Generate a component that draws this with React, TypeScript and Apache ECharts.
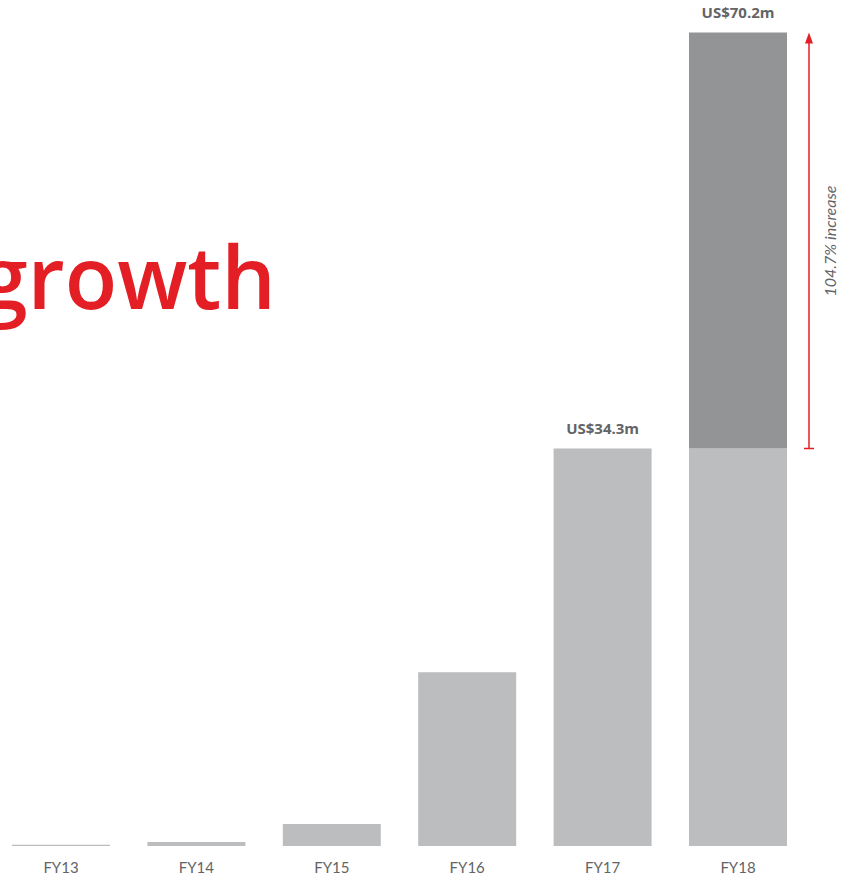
import React, { useEffect, useRef } from "react";
import * as echarts from "echarts";

const categories = ["FY13", "FY14", "FY15", "FY16", "FY17", "FY18"];
const baseValues = [0.1, 0.35, 1.9, 15.0, 34.3, 34.3];
const increaseValues: (number | null)[] = [null, null, null, null, null, 35.9];
const totalLabels: (string | null)[] = [null, null, null, null, "US$34.3m", "US$70.2m"];
const headline = "growth";
const increaseText = "104.7% increase";

const RED = "#e31e24";
const LIGHT = "#bcbdbf";
const DARK = "#939496";
const TEXT = "#636466";

const SHIFT = 10; // the chart div starts SHIFT px left of the page

export default function App() {
  const ref = useRef<HTMLDivElement>(null);
  useEffect(() => {
    if (!ref.current) return;
    const chart = echarts.init(ref.current, null, { renderer: "svg" });
    const labelStyle = {
      show: true,
      position: "top" as const,
      distance: 13,
      fontSize: 15,
      fontWeight: "bold" as const,
      color: TEXT,
      fontFamily: "Open Sans",
    };
    chart.setOption({
      animation: false,
      grid: { left: 3.3, right: 38.3, top: 0, bottom: 29, containLabel: false },
      xAxis: {
        type: "category",
        data: categories,
        axisLine: { show: false },
        axisTick: { show: false },
        axisLabel: { margin: 13, fontSize: 15, color: TEXT, fontFamily: "Lato" },
      },
      yAxis: { type: "value", min: 0, max: 73, show: false, splitLine: { show: false } },
      series: [
        {
          type: "bar",
          stack: "a",
          barWidth: 98,
          itemStyle: { color: LIGHT },
          data: baseValues.map((v, i) => ({
            value: v,
            label: i === 4 ? { ...labelStyle, formatter: totalLabels[i] as string } : { show: false },
          })),
        },
        {
          type: "bar",
          stack: "a",
          barWidth: 98,
          itemStyle: { color: DARK },
          data: increaseValues.map((v, i) => ({
            value: v === null ? "-" : v,
            label: v !== null && totalLabels[i] ? { ...labelStyle, formatter: totalLabels[i] as string } : { show: false },
          })),
        },
      ],
    });

    const yLow = chart.convertToPixel({ gridIndex: 0 }, [5, baseValues[5]])[1];
    const yHigh = chart.convertToPixel({ gridIndex: 0 }, [5, baseValues[5] + (increaseValues[5] as number)])[1];
    const ax = 809 + SHIFT;
    chart.setOption({
      graphic: [
        {
          type: "text",
          x: 276 + SHIFT,
          y: 318,
          style: {
            text: headline,
            fill: RED,
            font: "600 86px 'Open Sans'",
            textAlign: "right",
            textVerticalAlign: "bottom",
          },
        },
        {
          type: "line",
          shape: { x1: ax, y1: yLow, x2: ax, y2: yHigh + 8 },
          style: { stroke: RED, lineWidth: 1.5 },
        },
        {
          type: "line",
          shape: { x1: ax - 5, y1: yLow, x2: ax + 5, y2: yLow },
          style: { stroke: RED, lineWidth: 1.5 },
        },
        {
          type: "polygon",
          shape: { points: [[ax, yHigh], [ax - 4, yHigh + 11], [ax + 4, yHigh + 11]] },
          style: { fill: RED },
        },
        {
          type: "text",
          x: 829 + SHIFT,
          y: 241,
          rotation: Math.PI / 2,
          style: {
            text: increaseText,
            fill: TEXT,
            font: "italic 16px Lato",
            textAlign: "center",
            textVerticalAlign: "middle",
          },
        },
      ],
    });
    return () => chart.dispose();
  }, []);
  return (
    <div style={{ position: "fixed", left: 0, top: 0, width: 844, height: 875, overflow: "hidden", background: "#fff" }}>
      <div
        ref={ref}
        style={{ position: "absolute", left: -SHIFT, top: 0, width: 844 + SHIFT, height: 875 }}
      />
    </div>
  );
}
